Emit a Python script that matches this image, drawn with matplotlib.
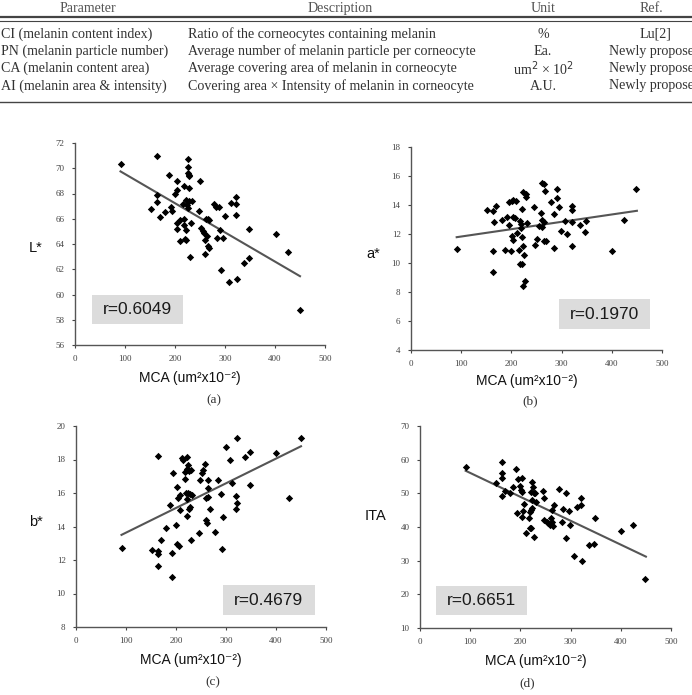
import matplotlib.pyplot as plt
import numpy as np
from matplotlib.lines import Line2D

# ---- table content ----
table_header = ["Parameter", "Description", "Unit", "Ref."]
table_params = ["CI (melanin content index)", "PN (melanin particle number)",
                "CA (melanin content area)", "AI (melanin area & intensity)"]
table_desc = ["Ratio of the corneocytes containing melanin",
              "Average number of melanin particle per corneocyte",
              "Average covering area of melanin in corneocyte",
              "Covering area \u00d7 Intensity of melanin in corneocyte"]
table_unit = ["%", "Ea.", "um$^2$ \u00d7 10$^2$", "A.U."]
table_ref = ["Lu[2]", "Newly proposed", "Newly proposed", "Newly proposed"]

# ---- scatter data (MCA vs colour values) ----
mca_a = [91, 163, 163, 163, 151, 170, 180, 188, 193, 191, 200, 203, 203, 203, 203, 210, 210,
         218, 218, 219, 221, 221, 218, 215, 221, 223, 225, 225, 226, 227, 228, 228, 225, 227,
         233, 231, 229, 247, 249, 251, 255, 258, 259, 261, 265, 263, 267, 265, 267, 259, 277,
         281, 287, 283, 290, 295, 300, 291, 307, 312, 321, 321, 322, 323, 337, 348, 348, 401,
         425, 449]
L_star = [70.3, 71.0, 67.85, 67.3, 66.8, 66.1, 66.5, 69.5, 66.6, 66.97, 67.95, 68.3, 69.0,
          65.7, 65.2, 65.9, 64.2, 65.5, 66.0, 64.4, 64.3, 65.1, 68.6, 67.2, 67.5, 67.1, 70.1,
          69.6, 70.7, 69.4, 69.5, 68.4, 66.84, 67.4, 67.4, 65.65, 63.0, 66.6, 69.0, 65.25, 65.0,
          64.85, 64.3, 66.0, 66.0, 64.6, 65.9, 63.85, 63.7, 63.2, 67.2, 66.97, 66.9, 64.46,
          65.07, 64.46, 66.18, 61.95, 61.0, 67.24, 67.74, 67.16, 66.26, 61.2, 62.48, 62.9,
          65.17, 64.78, 63.4, 58.77]

mca_b = [92, 151, 163, 170, 165, 163, 163, 181, 188, 192, 196, 195, 201, 204, 209, 204, 207,
         201, 203, 200, 211, 216, 218, 220, 219, 221, 221, 218, 222, 224, 226, 223, 228, 224,
         229, 229, 232, 246, 248, 250, 254, 258, 260, 261, 264, 261, 265, 266, 264, 269, 278,
         284, 285, 291, 291, 295, 299, 307, 311, 321, 321, 321, 321, 336, 347, 349, 400, 425,
         449]
a_star = [10.95, 13.63, 13.56, 13.9, 12.8, 10.86, 9.41, 12.98, 10.9, 13.2, 12.63, 14.18, 14.29,
          14.36, 14.3, 13.2, 13.1, 11.83, 11.6, 10.86, 12.1, 10.9, 12.87, 12.68, 12.4, 13.74,
          11.78, 9.92, 9.94, 11.18, 10.56, 8.44, 8.79, 14.9, 14.78, 14.52, 12.75, 13.83, 11.21,
          11.65, 12.57, 13.44, 12.47, 12.98, 12.8, 15.51, 15.44, 14.94, 11.53, 11.53, 14.18,
          13.4, 11.02, 15.1, 14.48, 13.83, 12.22, 12.9, 11.99, 13.9, 13.63, 11.2, 12.8, 12.59,
          12.17, 12.87, 10.84, 12.98, 15.1]

mca_c = [91, 152, 163, 163, 163, 163, 170, 179, 187, 191, 192, 194, 199, 202, 205, 202, 203,
         207, 207, 211, 214, 217, 221, 217, 221, 224, 222, 225, 229, 220, 223, 227, 232, 221,
         225, 227, 230, 222, 245, 247, 251, 254, 257, 259, 260, 262, 263, 263, 264, 267, 277,
         284, 290, 291, 294, 299, 307, 311, 320, 321, 319, 322, 337, 347, 347, 400, 425, 449]
b_star = [12.74, 12.6, 12.56, 12.36, 11.65, 18.2, 13.2, 13.93, 15.28, 12.4, 11.0, 17.2, 14.09,
          12.94, 12.84, 16.37, 15.73, 15.87, 14.98, 18.1, 18.0, 16.83, 18.16, 17.26, 17.46,
          17.66, 17.36, 17.3, 17.36, 16.0, 16.0, 15.97, 15.87, 14.63, 15.02, 15.18, 13.2, 15.62,
          13.6, 16.77, 17.2, 17.4, 17.76, 15.68, 14.39, 14.19, 16.27, 16.77, 15.74, 15.04, 13.65,
          16.77, 15.97, 12.68, 14.59, 18.75, 18.0, 16.57, 15.82, 15.38, 15.04, 19.29, 18.16,
          18.45, 16.47, 18.39, 15.68, 19.29]

mca_d = [91, 151, 164, 164, 164, 163, 169, 179, 186, 191, 195, 203, 193, 199, 201, 203, 204,
         206, 208, 211, 218, 219, 221, 219, 222, 224, 223, 222, 224, 226, 227, 229, 232, 228,
         246, 247, 248, 252, 255, 259, 260, 262, 263, 264, 266, 277, 284, 283, 290, 296, 299,
         290, 307, 312, 320, 321, 322, 337, 347, 348, 400, 425, 449]
ita = [57.86, 53.1, 59.3, 56.1, 54.6, 49.2, 50.7, 50.0, 51.9, 57.1, 54.4, 54.6, 44.2, 52.1,
       50.95, 50.5, 42.9, 44.8, 46.7, 38.1, 42.6, 39.6, 39.6, 44.5, 45.0, 45.5, 48.0, 50.5, 53.4,
       51.9, 50.0, 50.2, 47.5, 36.9, 50.8, 48.6, 42.1, 41.6, 41.1, 40.6, 42.6, 45.0, 41.6, 40.4,
       46.5, 51.25, 45.3, 41.6, 50.2, 44.8, 40.6, 36.6, 31.5, 46.0, 48.5, 46.5, 30.0, 34.6, 35.0,
       42.6, 38.7, 40.7, 24.6]

# regression line end points
fit_x = [91, 450]
fit_a = [69.75, 61.45]
fit_b = [11.78, 13.6]
fit_c = [13.5, 18.79]
fit_d = [56.7, 31.2]

r_labels = ["r=0.6049", "r=0.1970", "r=0.4679", "r=0.6651"]

plt.rcParams['font.family'] = ['Liberation Sans', 'DejaVu Sans']
fig = plt.figure(figsize=(6.92, 6.95), dpi=100)

# ---- table at the top ----
ta = fig.add_axes([0, 1 - 106 / 695, 1, 106 / 695])
ta.set_xlim(0, 692)
ta.set_ylim(106, 0)
ta.axis("off")
serif = ['Liberation Serif', 'DejaVu Serif']
tcol = "#333333"
tfs = 10.1
for x, h in zip([88, 340, 543, 651], table_header):
    ta.text(x, 8.5, h, ha="center", va="center", family=serif, fontsize=tfs, color="#555555")
ta.add_line(Line2D([0, 692], [17, 17], color="#444444", lw=1.6))
ta.add_line(Line2D([0, 692], [20.5, 20.5], color="#444444", lw=0.8))
row_y = [34, 51.5, 68.5, 86]
for y, p, d, u, r in zip(row_y, table_params, table_desc, table_unit, table_ref):
    ta.text(1, y, p, ha="left", va="center", family=serif, fontsize=tfs, color=tcol)
    ta.text(188, y, d, ha="left", va="center", family=serif, fontsize=tfs, color=tcol)
    ta.text(543, y, u, ha="center", va="center", family=serif, fontsize=tfs, color=tcol)
    ta.text(655, y, r, ha="center", va="center", family=serif, fontsize=tfs, color=tcol)
ta.add_line(Line2D([0, 692], [102, 102], color="#444444", lw=1.0))

# ---- scatter panels ----
panels = [
    dict(pos=[75, 143, 250, 202], x=mca_a, y=L_star, fit=fit_a, ylim=(56, 72), step=2,
         ylabel="L*", ylab_xy=(36, 248), box=(33, 57.64, 182, 2.32), cap="(a)", cap_x=214, cap_y=400,
         xl_y=378),
    dict(pos=[411, 147, 251, 203], x=mca_b, y=a_star, fit=fit_b, ylim=(4, 18), step=2,
         ylabel="a*", ylab_xy=(373, 254), box=(294, 5.43, 182, 2.07), cap="(b)", cap_x=530, cap_y=401,
         xl_y=381),
    dict(pos=[76, 426, 250, 201], x=mca_c, y=b_star, fit=fit_c, ylim=(8, 20), step=2,
         ylabel="b*", ylab_xy=(36, 522), box=(294, 8.7, 183, 1.78), cap="(c)", cap_x=213, cap_y=682,
         xl_y=660),
    dict(pos=[420, 426, 251, 202], x=mca_d, y=ita, fit=fit_d, ylim=(10, 70), step=10,
         ylabel="ITA", ylab_xy=(375, 516), box=(32, 13.75, 182, 8.85), cap="(d)", cap_x=527, cap_y=683,
         xl_y=661),
]

W, H = 692.0, 695.0
for p, rl in zip(panels, r_labels):
    l, t, w, h = p["pos"]
    ax = fig.add_axes([l / W, 1 - (t + h) / H, w / W, h / H])
    bx, by, bw, bh = p["box"]
    ax.add_patch(plt.Rectangle((bx, by), bw, bh, facecolor="#dcdcdc", edgecolor="none",
                               zorder=1, clip_on=False))
    ax.text(bx + bw / 2, by + bh / 2, rl, ha="center", va="center", fontsize=12.5,
            color="#1a1a1a", zorder=2)
    ax.plot(fit_x, p["fit"], color="#555555", lw=1.5, zorder=3)
    ax.scatter(p["x"], p["y"], marker="D", s=14, color="black", zorder=4, linewidths=0)
    ax.set_xlim(0, 500)
    ax.set_ylim(*p["ylim"])
    ax.set_xticks(np.arange(0, 501, 100))
    ax.set_yticks(np.arange(p["ylim"][0], p["ylim"][1] + 0.1, p["step"]))
    for s in ["top", "right"]:
        ax.spines[s].set_visible(False)
    for s in ["left", "bottom"]:
        ax.spines[s].set_color("#555555")
        ax.spines[s].set_linewidth(1.0)
    ax.tick_params(labelsize=6.5, colors="#444444", length=2.5, width=0.8, pad=5)
    for lab in ax.get_xticklabels() + ax.get_yticklabels():
        lab.set_family(serif)
    fig.text((l + w / 2 - 10) / W, 1 - p["xl_y"] / H, "MCA (um\u00b2x10\u207b\u00b2)",
             ha="center", va="center", fontsize=10, color="#111111")
    fig.text(p["cap_x"] / W, 1 - p["cap_y"] / H, p["cap"], ha="center", va="center",
             family=serif, fontsize=9.5, color=tcol)
    fig.text(p["ylab_xy"][0] / W, 1 - p["ylab_xy"][1] / H, p["ylabel"], ha="center",
             va="center", fontsize=10.5, color="#111111")

fig.savefig("out.png", dpi=100)
